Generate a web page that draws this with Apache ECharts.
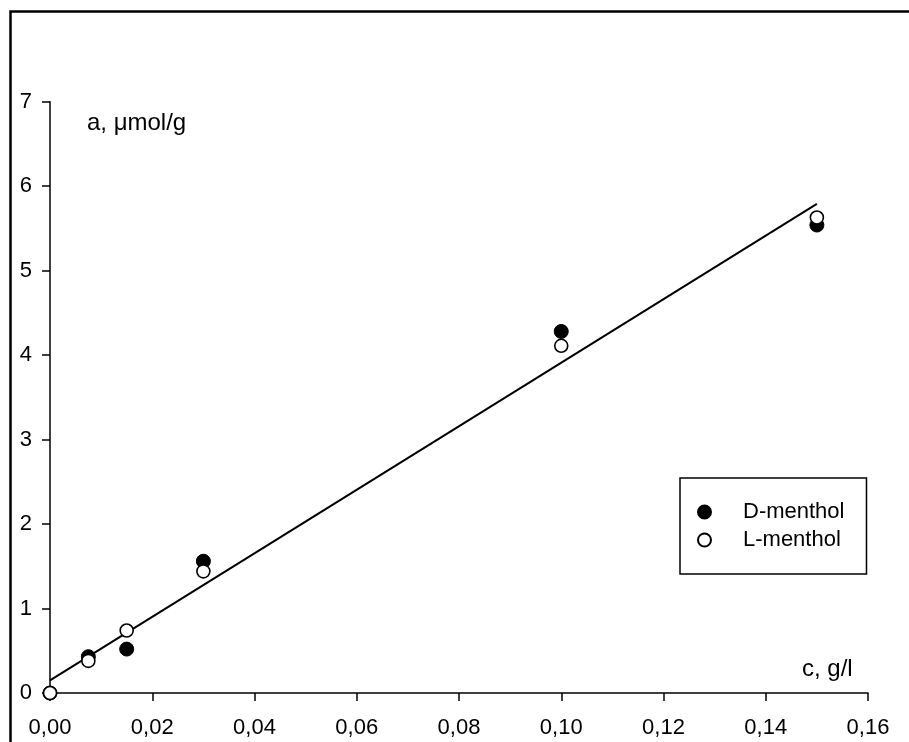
<!DOCTYPE html>
<html>
<head>
<meta charset="utf-8">
<script src="https://cdn.jsdelivr.net/npm/echarts@6/dist/echarts.min.js"></script>
<style>
  html, body { margin: 0; padding: 0; background: #fff; }
  #chart { width: 909px; height: 742px; }
</style>
</head>
<body>
<div id="chart"></div>
<script>
// Adsorption of menthol enantiomers: a (µmol/g) versus concentration c (g/l)
const concentration = [0, 0.0075, 0.015, 0.03, 0.10, 0.15];
const dMenthol = [0, 0.43, 0.52, 1.56, 4.28, 5.54];
const lMenthol = [0, 0.38, 0.74, 1.44, 4.11, 5.63];
// linear fit through both sets
const fitX = [0, 0.15];
const fitY = [0.15, 5.79];

const FONT = 'Liberation Sans, Arial, sans-serif';

const pairs = (xs, ys) => xs.map((x, i) => [x, ys[i]]);

const chart = echarts.init(document.getElementById('chart'), null, { renderer: 'canvas' });

chart.setOption({
  animation: false,
  backgroundColor: '#ffffff',
  grid: { left: 50, right: 41, top: 101.7, bottom: 49, containLabel: false },
  xAxis: {
    type: 'value',
    min: 0,
    max: 0.16,
    interval: 0.02,
    axisLine: { show: true, lineStyle: { color: '#000', width: 1.5 } },
    axisTick: { show: true, inside: false, length: 8, lineStyle: { color: '#000', width: 1.5 } },
    splitLine: { show: false },
    axisLabel: {
      color: '#000', fontFamily: FONT, fontSize: 22, margin: 24,
      formatter: v => v.toFixed(2).replace('.', ',')
    }
  },
  yAxis: {
    type: 'value',
    min: 0,
    max: 7,
    interval: 1,
    axisLine: { show: true, lineStyle: { color: '#000', width: 1.5 } },
    axisTick: { show: true, inside: false, length: 8, lineStyle: { color: '#000', width: 1.5 } },
    splitLine: { show: false },
    axisLabel: { color: '#000', fontFamily: FONT, fontSize: 22, margin: 18, padding: [3, 0, 0, 0] }
  },
  legend: {
    orient: 'vertical',
    left: 680,
    top: 478,
    padding: [20, 22, 20, 17],
    itemGap: 0,
    itemWidth: 13,
    itemHeight: 13,
    borderColor: '#000',
    borderWidth: 1.5,
    borderRadius: 0,
    backgroundColor: '#fff',
    textStyle: { color: '#000', fontFamily: FONT, fontSize: 22, lineHeight: 28, padding: [0, 0, 0, 27] },
    data: [
      { name: 'D-menthol', icon: 'circle' },
      { name: 'L-menthol', icon: 'circle' }
    ]
  },
  graphic: [
    // figure frame (top and left edges fall inside the canvas)
    {
      type: 'rect',
      shape: { x: 10.5, y: 11.5, width: 1000, height: 1000 },
      style: { fill: 'none', stroke: '#000', lineWidth: 2.5 },
      silent: true
    },
    {
      type: 'text',
      left: 87,
      top: 111,
      style: { text: 'a, \u03bcmol/g', fill: '#000', font: '24px ' + FONT }
    },
    {
      type: 'text',
      left: 802,
      top: 657,
      style: { text: 'c, g/l', fill: '#000', font: '24px ' + FONT }
    }
  ],
  series: [
    {
      name: 'fit',
      type: 'line',
      data: pairs(fitX, fitY),
      symbol: 'none',
      lineStyle: { color: '#000', width: 2 },
      z: 1,
      silent: true
    },
    {
      name: 'D-menthol',
      type: 'scatter',
      data: pairs(concentration, dMenthol),
      symbol: 'circle',
      symbolSize: 14,
      itemStyle: { color: '#000', borderColor: '#000', borderWidth: 1, opacity: 1 },
      z: 2
    },
    {
      name: 'L-menthol',
      type: 'scatter',
      data: pairs(concentration, lMenthol),
      symbol: 'circle',
      symbolSize: 13,
      itemStyle: { color: '#fff', borderColor: '#000', borderWidth: 1.6, opacity: 1 },
      z: 3
    }
  ]
});
</script>
</body>
</html>
